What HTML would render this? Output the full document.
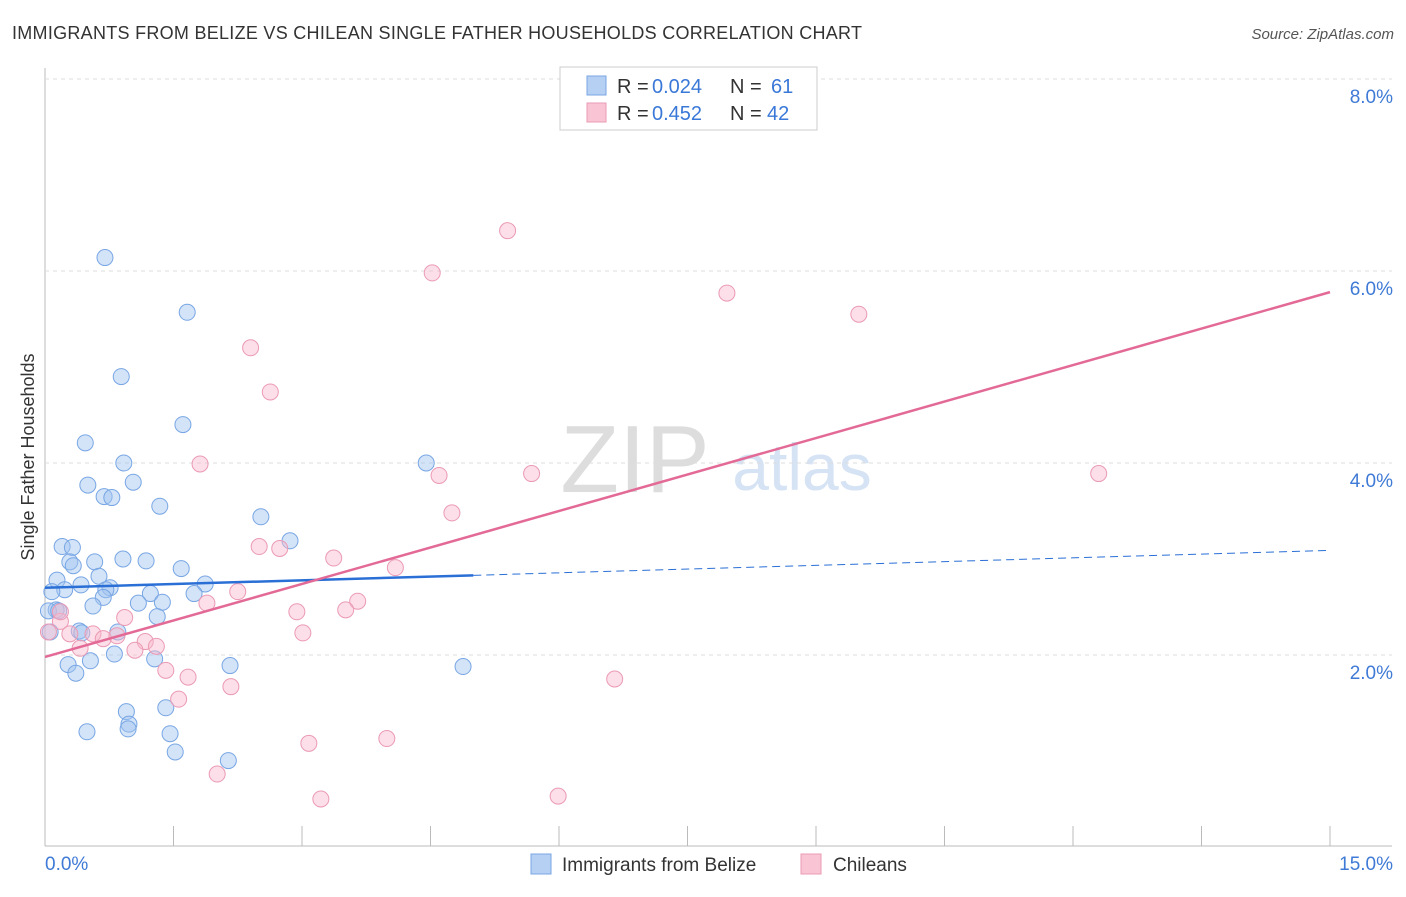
<!DOCTYPE html>
<html><head><meta charset="utf-8"><style>
body{margin:0;background:#fff;font-family:"Liberation Sans",sans-serif}
svg text{font-family:"Liberation Sans",sans-serif}
</style></head><body>
<svg id="chart" width="1406" height="892" xmlns="http://www.w3.org/2000/svg">
<text x="12" y="39" font-size="18" fill="#333" textLength="850">IMMIGRANTS FROM BELIZE VS CHILEAN SINGLE FATHER HOUSEHOLDS CORRELATION CHART</text>
<text x="1394" y="39" font-size="15" fill="#555" font-style="italic" text-anchor="end">Source: ZipAtlas.com</text>
<text x="635" y="492" font-size="96" fill="#ddd" font-family="Liberation Serif" text-anchor="middle">ZIP</text>
<text x="802" y="490" font-size="66" fill="#d5e3f5" text-anchor="middle">atlas</text>
<text transform="translate(34,457) rotate(-90)" font-size="18" fill="#333" text-anchor="middle">Single Father Households</text>
<g id="grid"></g><g id="pts"></g><g id="lines"></g>
<g>
<rect x="560" y="67" width="257" height="63" fill="#fff" stroke="#ccc"/>
<rect x="587" y="76" width="19" height="19" fill="#b5d0f3" stroke="#7aa6e3"/>
<text x="617" y="93" font-size="20" fill="#333">R =</text>
<text x="652" y="93" font-size="20" fill="#3a78d8">0.024</text>
<text x="730" y="93" font-size="20" fill="#333">N =</text>
<text x="771" y="93" font-size="20" fill="#3a78d8">61</text>
<rect x="587" y="103" width="19" height="19" fill="#f9c5d5" stroke="#eb9ab4"/>
<text x="617" y="120" font-size="20" fill="#333">R =</text>
<text x="652" y="120" font-size="20" fill="#3a78d8">0.452</text>
<text x="730" y="120" font-size="20" fill="#333">N =</text>
<text x="767" y="120" font-size="20" fill="#3a78d8">42</text>
</g>
<g>
<rect x="531" y="854" width="20" height="20" fill="#b5d0f3" stroke="#7aa6e3"/>
<text x="562" y="871" font-size="19" fill="#333">Immigrants from Belize</text>
<rect x="801" y="854" width="20" height="20" fill="#f9c5d5" stroke="#eb9ab4"/>
<text x="833" y="871" font-size="19" fill="#333">Chileans</text>
</g>
</svg>
<script>
const yTicks=[2,4,6,8];
const xTickLabels=["0.0%","15.0%"];
const blueX=[0.70,1.66,0.89,0.47,1.61,0.92,0.50,1.03,0.69,0.78,1.34,2.52,0.20,0.32,2.86,0.58,0.29,0.33,0.91,1.18,1.59,0.14,0.63,0.42,0.76,0.71,1.87,0.23,0.08,1.23,1.74,0.68,1.09,0.56,1.37,0.13,0.04,0.16,1.31,0.06,0.40,0.43,0.85,0.81,0.27,0.53,1.28,2.16,0.36,4.88,0.95,1.41,0.98,0.97,0.49,1.46,1.52,2.14,4.45];
const blueY=[6.14,5.57,4.90,4.21,4.40,4.00,3.77,3.80,3.65,3.64,3.55,3.44,3.13,3.12,3.19,2.97,2.97,2.93,3.00,2.98,2.90,2.78,2.82,2.73,2.70,2.68,2.74,2.68,2.66,2.64,2.64,2.60,2.54,2.51,2.55,2.47,2.46,2.46,2.40,2.24,2.25,2.23,2.24,2.01,1.90,1.94,1.96,1.89,1.81,1.88,1.41,1.45,1.28,1.23,1.20,1.18,0.99,0.90,4.00];
const pinkX=[5.40,4.52,7.96,9.50,2.40,2.63,1.81,4.60,5.68,12.30,4.75,2.50,2.74,3.37,4.09,1.89,2.25,3.65,2.94,3.51,0.93,3.01,0.18,0.04,0.29,0.56,0.68,0.84,1.17,1.30,0.41,1.05,1.41,1.67,1.56,2.17,6.65,3.08,3.99,2.01,3.22,5.99,0.18];
const pinkY=[6.42,5.98,5.77,5.55,5.20,4.74,3.99,3.87,3.89,3.89,3.48,3.13,3.11,3.01,2.91,2.54,2.66,2.56,2.45,2.47,2.39,2.23,2.35,2.24,2.22,2.22,2.17,2.20,2.14,2.09,2.07,2.05,1.84,1.77,1.54,1.67,1.75,1.08,1.13,0.76,0.50,0.53,2.45];
const blueFit=[2.70,3.09];
const pinkFit=[1.98,5.78];
const X0=45,X1=1330,Y0=847,PY=96;
const sx=v=>X0+v*(X1-X0)/15, sy=v=>Y0-v*PY;
const NS="http://www.w3.org/2000/svg";
function mk(p,t,a){const e=document.createElementNS(NS,t);for(const k in a)e.setAttribute(k,a[k]);p.appendChild(e);return e;}
const grid=document.getElementById('grid');
mk(grid,'line',{x1:45,y1:68,x2:45,y2:846,stroke:'#bbb'});
mk(grid,'line',{x1:45,y1:846,x2:1392,y2:846,stroke:'#bbb'});
for(let i=0;i<=10;i++){const x=sx(i*1.5);const l=mk(grid,'line',{x1:x,y1:826,x2:x,y2:846,stroke:'#bbb'});

}
yTicks.forEach(v=>{const y=sy(v);mk(grid,'line',{x1:45,y1:y,x2:1392,y2:y,stroke:'#ddd','stroke-dasharray':'4,4'});
const t=mk(grid,'text',{x:1393,y:y+24,'font-size':19,fill:'#3f7ad6','text-anchor':'end'});t.textContent=v.toFixed(1)+'%';

});
[[45,'start',0],[1393,'end',1]].forEach(([x,a,i])=>{const t=mk(grid,'text',{x:x,y:870,'font-size':19,fill:'#3f7ad6','text-anchor':a});t.textContent=xTickLabels[i];

});
const pts=document.getElementById('pts');
blueX.forEach((v,i)=>{const c=mk(pts,'circle',{cx:sx(v),cy:sy(blueY[i]),r:8,fill:'rgba(160,195,240,0.45)',stroke:'#78a6e4','stroke-width':1});

});
pinkX.forEach((v,i)=>{const c=mk(pts,'circle',{cx:sx(v),cy:sy(pinkY[i]),r:8,fill:'rgba(248,185,205,0.45)',stroke:'#eb9ab4','stroke-width':1});

});
const L=document.getElementById('lines');
const bAt=x=>blueFit[0]+(blueFit[1]-blueFit[0])*x/15;
let l1=mk(L,'line',{x1:sx(0),y1:sy(bAt(0)),x2:sx(5),y2:sy(bAt(5)),stroke:'#2a6fd6','stroke-width':2.5});


let l2=mk(L,'line',{x1:sx(5),y1:sy(bAt(5)),x2:sx(15),y2:sy(bAt(15)),stroke:'#2a6fd6','stroke-width':1,'stroke-dasharray':'8,5'});


let l3=mk(L,'line',{x1:sx(0),y1:sy(pinkFit[0]),x2:sx(15),y2:sy(pinkFit[1]),stroke:'#e36a96','stroke-width':2.5});


</script>
</body></html>
